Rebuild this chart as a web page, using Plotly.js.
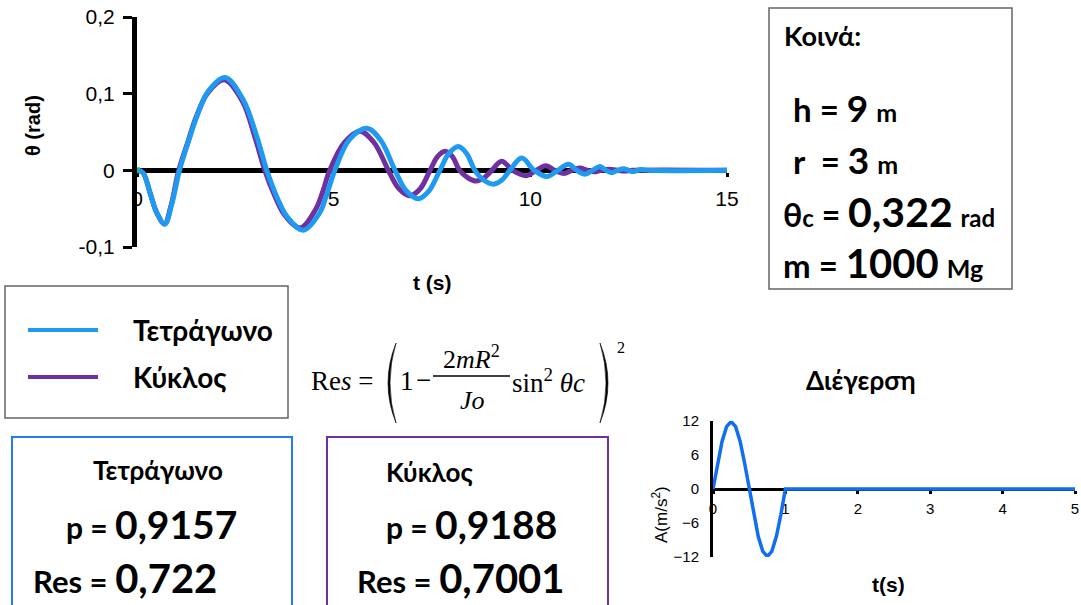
<!DOCTYPE html>
<html><head><meta charset="utf-8">
<script src="https://cdn.plot.ly/plotly-3.0.1.min.js"></script>
<style>html,body{margin:0;padding:0;background:#fff;} #chart{width:1081px;height:605px;}</style>
</head><body><div id="chart"></div>
<script>
// ---------- DATA ----------
const tSquare = [0,0.15,0.33,0.5,0.71,0.88,1.08,1.31,1.52,1.81,2.24,2.70,3.04,3.30,3.55,3.81,4.23,4.65,4.82,5.03,5.40,5.84,6.20,6.56,6.85,7.15,7.42,7.70,7.93,8.17,8.38,8.59,8.82,9.06,9.27,9.48,9.78,10.10,10.42,10.70,10.97,11.18,11.39,11.58,11.77,11.92,12.07,12.22,12.37,12.50,12.62,12.80,13.00,15];
const thetaSquare = [0,-0.003,-0.029,-0.055,-0.070,-0.045,0,0.038,0.070,0.103,0.121,0.092,0.045,0,-0.034,-0.060,-0.078,-0.055,-0.032,0,0.040,0.055,0.039,0,-0.027,-0.037,-0.027,0,0.022,0.031,0.022,0,-0.013,-0.018,-0.013,0,0.016,0,-0.008,0,0.008,0,-0.005,0,0.005,0,-0.003,0,0.002,0,-0.0015,0.001,0,0];
const tCircle = [0,0.15,0.33,0.5,0.70,0.87,1.06,1.30,1.50,1.80,2.22,2.68,3.00,3.25,3.50,3.75,4.15,4.55,4.72,4.90,5.27,5.67,6.03,6.39,6.66,6.94,7.20,7.45,7.64,7.83,8.02,8.20,8.42,8.62,8.82,9.02,9.27,9.55,9.90,10.15,10.40,10.62,10.85,11.05,11.25,11.45,11.62,11.80,12.00,12.20,12.40,12.60,15];
const thetaCircle = [0,-0.003,-0.029,-0.055,-0.070,-0.045,0,0.038,0.069,0.101,0.118,0.090,0.043,0,-0.033,-0.058,-0.075,-0.050,-0.028,0,0.036,0.051,0.036,0,-0.024,-0.033,-0.024,0,0.018,0.025,0.018,0,-0.010,-0.014,-0.010,0,0.012,0,-0.007,0,0.006,0,-0.004,0,0.003,0,-0.002,0,0.0015,0,-0.001,0,0];
const startT = [0];
const startTheta = [0];
const thetaTickVals = [-0.1, 0, 0.1, 0.2];
const thetaTickText = ['-0,1', '0', '0,1', '0,2'];
const tTickVals = [0, 5, 10, 15];

const tExc = [0,0.0625,0.125,0.1875,0.25,0.3125,0.375,0.4375,0.5,0.5625,0.625,0.6875,0.75,0.8125,0.875,0.9375,1.0,5];
const accExc = [0,4.5,8.4,11.0,11.9,11.0,8.4,4.5,0,-4.5,-8.4,-11.0,-11.9,-11.0,-8.4,-4.5,0,0];
const accTickVals = [-12,-6,0,6,12];
const excTTickVals = [0,1,2,3,4,5];

const legendNames = ['Τετράγωνο', 'Κύκλος'];
const pSquare = '0,9157', resSquare = '0,722';
const pCircle = '0,9188', resCircle = '0,7001';

// ---------- LAYOUT HELPERS ----------
const W = 1081, H = 605;
const px = x => x / W, py = y => 1 - y / H;
const CAL = 'Lato, "Open Sans", "Noto Sans", sans-serif';
const ARIAL = '"Liberation Sans", Arial, sans-serif';
const SERIF = '"Liberation Serif", "Times New Roman", serif';
const BLUE = 'rgb(30,155,240)', PURPLE = 'rgb(112,48,160)', EXC = 'rgb(16,110,240)';

const yDom1 = [py(247), py(17)];
const zero1 = yDom1[0] + (yDom1[1] - yDom1[0]) * (0 - (-0.1)) / 0.3;
const yDom2 = [py(557), py(421)];
const zero2 = yDom2[0] + (yDom2[1] - yDom2[0]) * 0.5;

function ann(x, y, text, size, opt) {
  opt = opt || {};
  return Object.assign({
    xref: 'paper', yref: 'paper', x: px(x), y: py(y), text: text, showarrow: false,
    xanchor: 'left', yanchor: 'middle',
    font: {family: CAL, size: size, color: '#000', weight: 'bold'}
  }, opt);
}
const serif = s => ({family: SERIF, size: s, color: '#000'});
const sp = (s, t) => '<span style="font-size:' + s + 'px">' + t + '</span>';

const traces = [
  {x: tCircle, y: thetaCircle, type: 'scatter', mode: 'lines', name: legendNames[1],
   line: {color: PURPLE, width: 5, shape: 'spline', smoothing: 1}, xaxis: 'x', yaxis: 'y'},
  {x: tSquare, y: thetaSquare, type: 'scatter', mode: 'lines', name: legendNames[0],
   line: {color: BLUE, width: 5, shape: 'spline', smoothing: 1}, xaxis: 'x', yaxis: 'y'},
  {x: startT, y: startTheta, type: 'scatter', mode: 'markers',
   marker: {symbol: 'square', size: 6, color: 'rgb(40,170,170)'}, xaxis: 'x', yaxis: 'y'},
  {x: tExc, y: accExc, type: 'scatter', mode: 'lines',
   line: {color: EXC, width: 3.5}, xaxis: 'x2', yaxis: 'y2'}
];

const shapes = [
  {type: 'rect', xref: 'paper', yref: 'paper', x0: px(769), x1: px(1012), y0: py(8), y1: py(289), line: {color: '#666', width: 1.5}},
  {type: 'rect', xref: 'paper', yref: 'paper', x0: px(5), x1: px(288), y0: py(286), y1: py(418), line: {color: '#666', width: 1.5}},
  {type: 'line', xref: 'paper', yref: 'paper', x0: px(28), x1: px(98), y0: py(330), y1: py(330), line: {color: BLUE, width: 4}},
  {type: 'line', xref: 'paper', yref: 'paper', x0: px(28), x1: px(98), y0: py(377), y1: py(377), line: {color: PURPLE, width: 4}},
  {type: 'rect', xref: 'paper', yref: 'paper', x0: px(12), x1: px(292), y0: py(437), y1: py(615), line: {color: 'rgb(40,120,240)', width: 2}},
  {type: 'rect', xref: 'paper', yref: 'paper', x0: px(327), x1: px(608), y0: py(437), y1: py(615), line: {color: PURPLE, width: 2}},
  {type: 'line', xref: 'paper', yref: 'paper', x0: px(433), x1: px(510), y0: py(376), y1: py(376), line: {color: '#000', width: 1.3}},
  {type: 'path', xref: 'paper', yref: 'paper',
   path: 'M ' + px(396) + ' ' + py(343) + ' Q ' + px(380) + ' ' + py(383) + ' ' + px(396) + ' ' + py(423) +
         ' Q ' + px(384) + ' ' + py(383) + ' ' + px(396) + ' ' + py(343) + ' Z',
   fillcolor: '#000', line: {color: '#000', width: 0.6}},
  {type: 'path', xref: 'paper', yref: 'paper',
   path: 'M ' + px(600) + ' ' + py(343) + ' Q ' + px(616) + ' ' + py(383) + ' ' + px(600) + ' ' + py(423) +
         ' Q ' + px(612) + ' ' + py(383) + ' ' + px(600) + ' ' + py(343) + ' Z',
   fillcolor: '#000', line: {color: '#000', width: 0.6}}
];

const annotations = [
  ann(33, 126, 'θ (rad)', 20, {xanchor: 'center', textangle: -90, font: {family: ARIAL, size: 20, color: '#000', weight: 'bold'}}),
  ann(432, 282, 't (s)', 21, {xanchor: 'center', font: {family: ARIAL, size: 21, color: '#000', weight: 'bold'}}),
  // Κοινά
  ann(782, 35, 'Κοινά:', 27),
  ann(791, 107, 'h = ' + sp(37, '9') + ' ' + sp(25, 'm'), 33),
  ann(791, 159, 'r\u00a0 = ' + sp(37, '3') + ' ' + sp(25, 'm'), 33),
  ann(781, 211, 'θ' + sp(24, 'c') + ' = ' + sp(41, '0,322') + ' ' + sp(24, 'rad'), 32),
  ann(781, 263, 'm = ' + sp(40, '1000') + ' ' + sp(25, 'Mg'), 33),
  // legend
  ann(131, 330, legendNames[0], 28),
  ann(131, 377, legendNames[1], 28),
  // formula
  ann(309, 381, 'Re<i>s</i> =', 27, {font: serif(27)}),
  ann(398, 381, '1', 27, {font: serif(27)}),
  ann(423, 380, '−', 27, {xanchor: 'center', font: serif(27)}),
  ann(471, 357, '2<i>mR</i><sup>2</sup>', 26, {xanchor: 'center', font: serif(26)}),
  ann(472, 400, '<i>Jo</i>', 26, {xanchor: 'center', font: serif(26)}),
  ann(510, 381, 'sin<sup>2</sup> <i>θc</i>', 27, {font: serif(27)}),
  ann(615, 347, '2', 16, {font: serif(16)}),
  // result boxes
  ann(158, 470, legendNames[0], 26, {xanchor: 'center'}),
  ann(64, 524, 'p = ' + sp(39, pSquare), 30),
  ann(31, 578, 'Res = ' + sp(40, resSquare), 31),
  ann(384, 472, legendNames[1], 26),
  ann(384, 524, 'p = ' + sp(39, pCircle), 30),
  ann(355, 578, 'Res = ' + sp(40, resCircle), 31),
  // excitation chart
  ann(861, 380, 'Διέγερση', 26, {xanchor: 'center'}),
  ann(660, 515, 'A(m/s<sup>2</sup>)', 17, {xanchor: 'center', textangle: -90, font: {family: ARIAL, size: 17, color: '#000'}}),
  ann(888, 584, 't(s)', 21, {xanchor: 'center', font: {family: ARIAL, size: 21, color: '#000', weight: 'bold'}})
];

const layout = {
  width: W, height: H,
  margin: {l: 0, r: 0, t: 0, b: 0, autoexpand: false},
  paper_bgcolor: '#fff', plot_bgcolor: 'rgba(0,0,0,0)',
  showlegend: false,
  xaxis: {domain: [px(137), px(727)], range: [0, 15], anchor: 'free', position: zero1,
    showline: true, linecolor: '#000', linewidth: 5, showgrid: false, zeroline: false,
    tickvals: tTickVals, ticks: 'outside', ticklen: 4, tickwidth: 3, tickcolor: '#000',
    ticklabelstandoff: 3, tickfont: {family: ARIAL, size: 21, color: '#000'}, layer: 'below traces', fixedrange: true},
  yaxis: {domain: yDom1, range: [-0.1, 0.2], anchor: 'x',
    showline: true, linecolor: '#000', linewidth: 5, showgrid: false, zeroline: false,
    tickvals: thetaTickVals, ticktext: thetaTickText, ticks: 'outside', ticklen: 9, tickwidth: 3, tickcolor: '#000',
    ticklabelstandoff: 4, tickfont: {family: ARIAL, size: 21, color: '#000'}, layer: 'below traces', fixedrange: true},
  xaxis2: {domain: [px(713), px(1075)], range: [0, 5], anchor: 'free', position: zero2,
    showline: true, linecolor: '#000', linewidth: 3, showgrid: false, zeroline: false,
    tickvals: excTTickVals, ticks: 'outside', ticklen: 3, tickwidth: 3, tickcolor: '#000',
    ticklabelstandoff: 2, tickfont: {family: ARIAL, size: 15, color: '#000'}, layer: 'below traces', fixedrange: true},
  yaxis2: {domain: yDom2, range: [-12, 12], anchor: 'x2',
    showline: true, linecolor: '#000', linewidth: 3, showgrid: false, zeroline: false,
    tickvals: accTickVals, ticks: '', ticklabelstandoff: 8,
    tickfont: {family: ARIAL, size: 15, color: '#000'}, layer: 'below traces', fixedrange: true},
  shapes: shapes,
  annotations: annotations
};

Plotly.newPlot('chart', traces, layout, {displayModeBar: false, staticPlot: true});
</script>
</body></html>
